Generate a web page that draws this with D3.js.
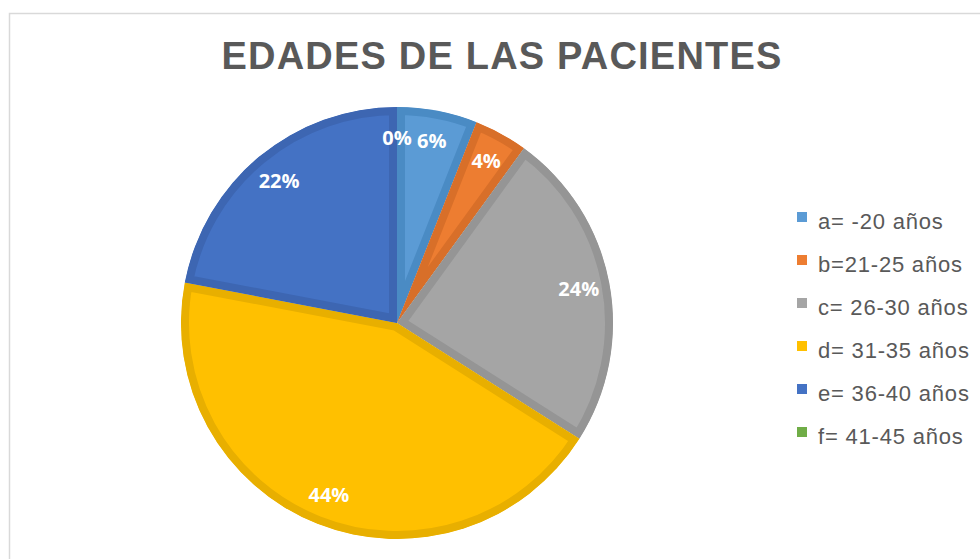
<!DOCTYPE html>
<html>
<head>
<meta charset="utf-8">
<script src="https://cdn.jsdelivr.net/npm/d3@7"></script>
<style>
  body { margin: 0; background: #fff; }
</style>
</head>
<body>
<div id="chart"></div>
<script>
// Data
var categories = ["a= -20 años", "b=21-25 años", "c= 26-30 años", "d= 31-35 años", "e= 36-40 años", "f= 41-45 años"];
var values = [6, 4, 24, 44, 22, 0];
var fills = ["#5b9bd5", "#ed7d31", "#a5a5a5", "#ffc000", "#4472c4", "#70ad47"];
var edges = ["#4a8bc4", "#d86f29", "#959595", "#e8af00", "#3d66b2", "#64a03f"];

var width = 980, height = 559;
var cx = 397, cy = 323, radius = 216;

var svg = d3.select("#chart").append("svg")
  .attr("width", width)
  .attr("height", height);

// chart area frame
svg.append("rect")
  .attr("x", 9.5).attr("y", 13.5)
  .attr("width", 1000).attr("height", 600)
  .attr("fill", "#fff")
  .attr("stroke", "#d9d9d9")
  .attr("stroke-width", 1.5);

// title
svg.append("text")
  .attr("x", 502)
  .attr("y", 69)
  .attr("text-anchor", "middle")
  .style("font-family", "'Liberation Sans', Arial, sans-serif")
  .style("font-weight", "bold")
  .style("font-size", "38px")
  .style("letter-spacing", "1.2px")
  .attr("fill", "#595959")
  .text("EDADES DE LAS PACIENTES");

var data = categories.map(function(c, i) { return { name: c, value: values[i], i: i }; });

var pie = d3.pie()
  .sort(null)
  .value(function(d) { return d.value; });

var arc = d3.arc().innerRadius(0).outerRadius(radius);
var labelArc = d3.arc().innerRadius(185).outerRadius(185);

var arcs = pie(data);

var g = svg.append("g")
  .attr("transform", "translate(" + cx + "," + cy + ")");

var defs = svg.append("defs");
defs.selectAll("clipPath")
  .data(arcs)
  .enter().append("clipPath")
  .attr("id", function(d) { return "clip" + d.data.i; })
  .append("path")
  .attr("d", arc);

// slices with a darker inner edge
g.selectAll(".slice")
  .data(arcs)
  .enter().append("path")
  .attr("class", "slice")
  .attr("d", arc)
  .attr("fill", function(d) { return fills[d.data.i]; })
  .attr("stroke", function(d) { return edges[d.data.i]; })
  .attr("stroke-width", 16)
  .attr("stroke-linejoin", "miter")
  .attr("clip-path", function(d) { return "url(#clip" + d.data.i + ")"; });

// percent labels
g.selectAll(".lbl")
  .data(arcs)
  .enter().append("text")
  .attr("class", "lbl")
  .attr("transform", function(d) { return "translate(" + labelArc.centroid(d) + ")"; })
  .attr("text-anchor", "middle")
  .attr("dy", "0.36em")
  .style("font-family", "'Open Sans', sans-serif")
  .style("font-weight", "bold")
  .style("font-size", "20px")
  .attr("fill", "#fff")
  .text(function(d) { return d.data.value + "%"; });

// legend
var legend = svg.append("g")
  .attr("transform", "translate(797,229)");

var item = legend.selectAll(".item")
  .data(data)
  .enter().append("g")
  .attr("class", "item")
  .attr("transform", function(d, i) { return "translate(0," + (i * 43) + ")"; });

item.append("rect")
  .attr("x", 0).attr("y", -17)
  .attr("width", 10).attr("height", 10)
  .attr("fill", function(d) { return fills[d.i]; });

item.append("text")
  .attr("x", 21)
  .attr("y", 0)
  .style("font-family", "'Liberation Sans', Arial, sans-serif")
  .style("font-size", "22px")
  .style("letter-spacing", "0.8px")
  .attr("fill", "#595959")
  .text(function(d) { return d.name; });
</script>
</body>
</html>
